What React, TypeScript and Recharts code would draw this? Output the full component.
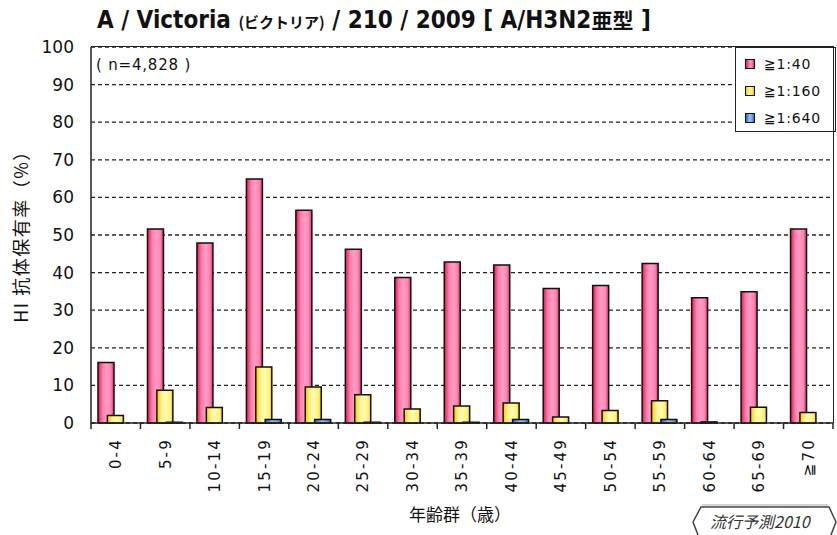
import React from 'react';
import { BarChart, Bar, XAxis, YAxis, CartesianGrid, Legend } from 'recharts';

const categories = ['0-4', '5-9', '10-14', '15-19', '20-24', '25-29', '30-34', '35-39', '40-44', '45-49', '50-54', '55-59', '60-64', '65-69', '≧70'];
const titer40 = [16.1, 51.6, 47.9, 64.9, 56.6, 46.2, 38.7, 42.8, 42.0, 35.8, 36.6, 42.4, 33.3, 34.9, 51.6];
const titer160 = [2.0, 8.7, 4.1, 14.9, 9.6, 7.5, 3.7, 4.5, 5.3, 1.6, 3.3, 5.9, 0.3, 4.2, 2.8];
const titer640 = [0, 0.2, 0, 0.9, 0.9, 0.2, 0, 0.2, 0.9, 0, 0, 0.9, 0, 0, 0];
const yTicks = [0, 10, 20, 30, 40, 50, 60, 70, 80, 90, 100];
const seriesNames = ['≧1:40', '≧1:160', '≧1:640'];

const data = categories.map((c, i) => ({ age: c, t40: titer40[i], t160: titer160[i], t640: titer640[i] }));

const W = 837;
const H = 535;
const PLOT = { left: 91, top: 47, right: 833, bottom: 423 };
const STEP = (PLOT.right - PLOT.left) / categories.length;

const swatchBg = [
  'linear-gradient(90deg,#d81e4a,#ff86b6 45%,#ff9cc6 65%,#e0305c)',
  'linear-gradient(90deg,#f0cc00,#fff8a0 45%,#fff070 70%,#e8c800)',
  'linear-gradient(90deg,#3060c0,#9cc0f2 45%,#80a8e8 70%,#3868c8)',
];

function XTick(props: any) {
  const { x, y, payload, index } = props;
  const last = index === categories.length - 1;
  const ty = y + 15;
  return (
    <g>
      <line x1={x - STEP / 2} x2={x - STEP / 2} y1={y} y2={y + 6} stroke="#222" strokeWidth={1.5} />
      {last && <line x1={x + STEP / 2} x2={x + STEP / 2} y1={y} y2={y + 6} stroke="#222" strokeWidth={1.5} />}
      <text
        x={x}
        y={ty}
        transform={`rotate(-90 ${x} ${ty})`}
        textAnchor="end"
        dy="0.36em"
        fontSize={15}
        fontFamily="DejaVu Sans"
        letterSpacing={2.2}
        fill="#111"
      >
        {payload.value}
      </text>
    </g>
  );
}

function LegendBox() {
  const rows = [16, 43, 70];
  return (
    <div
      style={{
        position: 'relative',
        width: 101,
        height: 85,
        border: '1px solid #222',
        background: '#fff',
        boxSizing: 'border-box',
        fontFamily: 'DejaVu Sans',
        fontSize: 14,
        letterSpacing: 0.8,
        color: '#111',
      }}
    >
      {seriesNames.map((n, i) => (
        <div
          key={n}
          style={{ position: 'absolute', left: 9, top: rows[i] - 9, height: 18, display: 'flex', alignItems: 'center', whiteSpace: 'nowrap' }}
        >
          <span
            style={{
              display: 'inline-block',
              width: 8,
              height: 8,
              border: '1px solid #111',
              background: swatchBg[i],
              marginRight: 9,
            }}
          />
          {n}
        </div>
      ))}
    </div>
  );
}

export default function App() {
  return (
    <div style={{ position: 'absolute', left: 0, top: 0, width: W, height: H, background: '#fff', overflow: 'hidden' }}>
      <BarChart
        width={W}
        height={H}
        data={data}
        margin={{ top: PLOT.top, right: W - PLOT.right, bottom: 0, left: 0 }}
        barSize={16}
        barGap={-6.6}
      >
        <defs>
          <linearGradient id="gPink" x1="0" y1="0" x2="1" y2="0">
            <stop offset="0" stopColor="#d81e4a" />
            <stop offset="0.3" stopColor="#ff80b0" />
            <stop offset="0.55" stopColor="#ff9cc6" />
            <stop offset="0.8" stopColor="#ff86b4" />
            <stop offset="1" stopColor="#e0305c" />
          </linearGradient>
          <linearGradient id="gYellow" x1="0" y1="0" x2="1" y2="0">
            <stop offset="0" stopColor="#f0cc00" />
            <stop offset="0.35" stopColor="#fff6a0" />
            <stop offset="0.6" stopColor="#fffab0" />
            <stop offset="0.85" stopColor="#fff070" />
            <stop offset="1" stopColor="#e8c800" />
          </linearGradient>
          <linearGradient id="gBlue" x1="0" y1="0" x2="1" y2="0">
            <stop offset="0" stopColor="#3060c0" />
            <stop offset="0.45" stopColor="#9cc0f2" />
            <stop offset="0.75" stopColor="#80a8e8" />
            <stop offset="1" stopColor="#3868c8" />
          </linearGradient>
        </defs>
        <CartesianGrid vertical={false} stroke="#222" strokeDasharray="4 3" strokeWidth={1.3} />
        <XAxis
          dataKey="age"
          interval={0}
          height={H - PLOT.bottom}
          tickLine={false}
          tickSize={0}
          tickMargin={0}
          axisLine={{ stroke: '#222', strokeWidth: 1.5 }}
          tick={<XTick />}
        />
        <YAxis
          domain={[0, 100]}
          ticks={yTicks}
          interval={0}
          width={PLOT.left}
          tickLine={false}
          tickSize={6}
          tickMargin={11}
          axisLine={{ stroke: '#222', strokeWidth: 1.5 }}
          tick={{ fontSize: 17, fontFamily: 'DejaVu Sans', fill: '#111' }}
        />
        <Legend
          layout="vertical"
          align="center"
          verticalAlign="middle"
          content={<LegendBox />}
          wrapperStyle={{ position: 'absolute', left: 735, top: PLOT.top, width: 101, height: 85 }}
        />
        <Bar dataKey="t40" name={seriesNames[0]} fill="url(#gPink)" stroke="#111" strokeWidth={1.5} isAnimationActive={false} />
        <Bar dataKey="t160" name={seriesNames[1]} fill="url(#gYellow)" stroke="#111" strokeWidth={1.5} isAnimationActive={false} />
        <Bar dataKey="t640" name={seriesNames[2]} fill="url(#gBlue)" stroke="#111" strokeWidth={1.5} isAnimationActive={false} />
      </BarChart>

      {/* plot frame (top & right) */}
      <div
        style={{
          position: 'absolute',
          left: PLOT.left,
          top: PLOT.top - 1,
          width: PLOT.right - PLOT.left,
          height: PLOT.bottom - PLOT.top,
          borderTop: '1.5px solid #222',
          borderRight: '1.5px solid #222',
          pointerEvents: 'none',
        }}
      />

      {/* title */}
      <div
        style={{
          position: 'absolute',
          left: 97,
          top: 4,
          whiteSpace: 'nowrap',
          fontWeight: 'bold',
          color: '#111',
          fontFamily: '"DejaVu Sans Condensed", "Liberation Sans Narrow", "Noto Sans CJK JP"',
          fontStretch: 'condensed',
          fontSize: 24,
        }}
      >
        A / Victoria <span style={{ fontSize: 15, fontFamily: '"Noto Sans CJK JP"', fontWeight: 'bold' }}>(ビクトリア)</span> / 210 / 2009 [ A/H3N2
        <span style={{ fontFamily: '"Noto Sans CJK JP"', fontSize: 21 }}>亜型</span> ]
      </div>

      {/* n label */}
      <div
        style={{
          position: 'absolute',
          left: 96,
          top: 56,
          whiteSpace: 'nowrap',
          fontFamily: 'DejaVu Sans',
          fontSize: 15,
          letterSpacing: 0.8,
          color: '#111',
        }}
      >
        ( n=4,828 )
      </div>

      {/* y axis title */}
      <div
        style={{
          position: 'absolute',
          left: 20,
          top: 232,
          transform: 'translate(-50%, -50%) rotate(-90deg)',
          whiteSpace: 'nowrap',
          fontFamily: '"Noto Sans CJK JP"',
          fontSize: 18,
          letterSpacing: 1.5,
          color: '#111',
        }}
      >
        HI 抗体保有率（%）
      </div>

      {/* x axis title */}
      <div
        style={{
          position: 'absolute',
          left: 460,
          top: 513,
          transform: 'translate(-50%, -50%)',
          whiteSpace: 'nowrap',
          fontFamily: '"Noto Sans CJK JP"',
          fontSize: 17,
          color: '#111',
        }}
      >
        年齢群（歳）
      </div>

      {/* logo */}
      <svg style={{ position: 'absolute', left: 0, top: 0, pointerEvents: 'none' }} width={W} height={H}>
        <polyline points="700,540 693,522 701,507 829,507 836,522 829,540" fill="none" stroke="#444" strokeWidth={1.5} />
        <polyline points="702,505 828,505" fill="none" stroke="#aaa" strokeWidth={1} />
        <text x={710} y={528} fontFamily='"Noto Sans CJK JP"' fontSize={16} fontStyle="italic" fill="#333">
          流行予測2010
        </text>
      </svg>
    </div>
  );
}
